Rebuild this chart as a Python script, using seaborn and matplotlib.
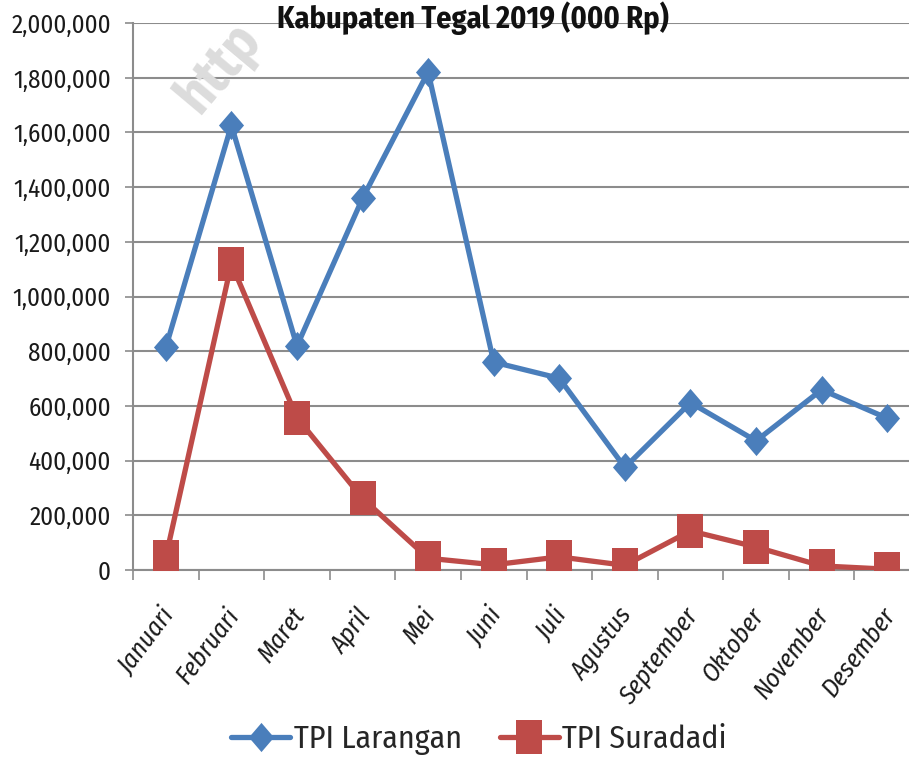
import matplotlib
matplotlib.use("Agg")
import matplotlib.pyplot as plt
from matplotlib import font_manager as fm
from matplotlib.ticker import FuncFormatter, FixedLocator
from matplotlib.transforms import ScaledTranslation
import seaborn as sns
import pandas as pd

# data (000 Rp)
bulan = ["Januari", "Februari", "Maret", "April", "Mei", "Juni", "Juli",
         "Agustus", "September", "Oktober", "November", "Desember"]
larangan = [814000, 1626000, 819000, 1359000, 1821000, 760000, 701000,
            375000, 612000, 472000, 659000, 555000]
suradadi = [47000, 1120000, 557000, 262000, 43000, 19000, 48000,
            17000, 143000, 84000, 15000, 3000]
y_ticks = list(range(0, 2000001, 200000))

judul = "Kabupaten Tegal 2019 (000 Rp)"

sns.set_theme(style="white")
# a narrow sans that also has an italic face
faces = {}
for f in fm.fontManager.ttflist:
    faces.setdefault(f.name, []).append(f)
fam, italic_file = "Liberation Sans", None
for cand in ["Fira Sans Condensed", "Asap Condensed", "Barlow Semi Condensed",
             "Archivo Narrow", "Open Sans"]:
    ital = [f for f in faces.get(cand, []) if f.style == "italic"]
    if ital:
        fam = cand
        ital.sort(key=lambda f: abs(int(f.weight) - 400) if str(f.weight).isdigit() else 999)
        italic_file = ital[0].fname
        break
plt.rcParams["font.family"] = [fam, "DejaVu Sans"]
if italic_file:
    xfont = fm.FontProperties(fname=italic_file)
else:
    xfont = fm.FontProperties(family=fam, style="italic")

df = pd.DataFrame({"Bulan": bulan * 2,
                   "Nilai": larangan + suradadi,
                   "TPI": ["TPI Larangan"] * 12 + ["TPI Suradadi"] * 12})

blue = "#4A7EBB"
red = "#BE4B48"
# markers a bit taller than wide, like the squeezed original
diamond = [(0, 0.5), (0.43, 0), (0, -0.5), (-0.43, 0), (0, 0.5)]
square = [(-0.4, -0.5), (0.4, -0.5), (0.4, 0.5), (-0.4, 0.5), (-0.4, -0.5)]

fig = plt.figure(figsize=(9.09, 7.6), dpi=100)
rend = fig.canvas.get_renderer()


def fit_size(s, target_px, fp=None, **kw):
    # font size that makes string s about target_px wide
    if fp is not None:
        fp = fp.copy()
        fp.set_size(20)
        t = fig.text(0, 0, s, fontproperties=fp)
    else:
        t = fig.text(0, 0, s, fontsize=20, **kw)
    w = t.get_window_extent(rend).width
    t.remove()
    return 20 * target_px / w


fs_y = fit_size("2,000,000", 100)
fs_x = fit_size("September", 113, fp=xfont)
fs_leg = fit_size("TPI Larangan", 168)
fs_t = fit_size(judul, 393, fontweight="bold")
xfont.set_size(fs_x)

ax = fig.add_axes([133 / 909, 1 - 570 / 760, 787 / 909, 547 / 760])

sns.lineplot(data=df[df.TPI == "TPI Larangan"], x="Bulan", y="Nilai",
             color=blue, lw=3.8, marker=diamond, markersize=21,
             markeredgewidth=0, label="TPI Larangan", ax=ax, zorder=3)
sns.lineplot(data=df[df.TPI == "TPI Suradadi"], x="Bulan", y="Nilai",
             color=red, lw=3.8, marker=square, markersize=24,
             markeredgewidth=0, label="TPI Suradadi", ax=ax, zorder=4)

ax.set_xlim(-0.5, 11.5)
ax.set_ylim(0, 2000000)
ax.set_yticks(y_ticks)
ax.yaxis.set_major_formatter(FuncFormatter(lambda v, p: f"{v:,.0f}"))
ax.grid(axis="y", color="#8C8C8C", lw=1.5)
ax.set_axisbelow(True)
ax.set_xlabel("")
ax.set_ylabel("")

for s in ["top", "right"]:
    ax.spines[s].set_visible(False)
for s in ["left", "bottom"]:
    ax.spines[s].set_color("#8C8C8C")
    ax.spines[s].set_linewidth(1.5)

ax.tick_params(axis="y", left=True, length=6, width=1.2, color="#8C8C8C",
               pad=10, labelsize=fs_y, labelcolor="#1a1a1a")
ax.set_xticks(range(12))
ax.set_xticklabels(bulan, rotation=53, ha="right", rotation_mode="anchor",
                   fontproperties=xfont, color="#1a1a1a")
ax.tick_params(axis="x", bottom=True, length=0, pad=24)
ax.xaxis.set_minor_locator(FixedLocator([i - 0.5 for i in range(13)]))
ax.tick_params(axis="x", which="minor", bottom=True, length=7, width=1.2,
               color="#8C8C8C")
shift = ScaledTranslation(-7 / 100, 0, fig.dpi_scale_trans)
for lab in ax.get_xticklabels():
    lab.set_transform(lab.get_transform() + shift)

ax.get_legend().remove()
h, l = ax.get_legend_handles_labels()
fig.legend(h, l, loc="center", bbox_to_anchor=(479 / 909, 1 - 740 / 760),
           ncol=2, frameon=False, fontsize=fs_leg, handlelength=1.85,
           columnspacing=1.2, handletextpad=0.1)

fig.text(473 / 909, 1 - 1 / 760, judul, ha="center", va="top",
         fontsize=fs_t, fontweight="bold", color="#111111")

# faint watermark in the corner
fig.text(200 / 909, 1 - 116 / 760, "http", rotation=50,
         rotation_mode="anchor", ha="left", va="baseline", fontsize=40,
         fontweight="bold", color="#DCDCDC", zorder=0)

fig.savefig("out.png", dpi=100)
